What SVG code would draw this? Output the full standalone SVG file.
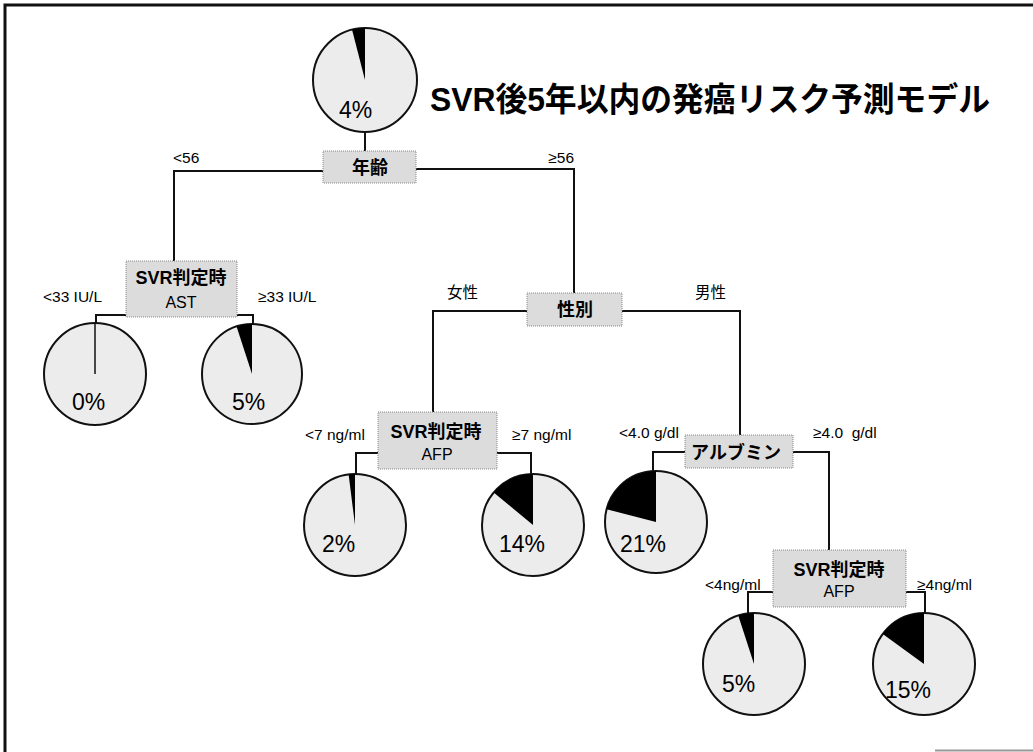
<svg xmlns="http://www.w3.org/2000/svg" width="1033" height="752" viewBox="0 0 1033 752">
<defs>
<style>
.frame{stroke:#111;stroke-width:3;fill:none}
.pie{fill:#ececec;stroke:#111;stroke-width:2}
.wedge{fill:#000}
.box{fill:#dcdcdc;stroke:#888;stroke-width:1;stroke-dasharray:1 1}
.conn{stroke:#111;stroke-width:2;fill:none}
.lbl{font-family:"Liberation Sans","Noto Sans CJK JP",sans-serif;font-size:15.5px;fill:#000}
.pct{font-family:"Liberation Sans",sans-serif;font-size:23px;fill:#000}
.bt{font-family:"Liberation Sans","Noto Sans CJK JP",sans-serif;font-size:18px;font-weight:bold;fill:#000;text-anchor:middle}
.bt2{font-family:"Liberation Sans",sans-serif;font-size:16px;fill:#000;text-anchor:middle}
.title{font-family:"Liberation Sans","Noto Sans CJK JP",sans-serif;font-size:33px;font-weight:bold;fill:#000}
</style>
</defs>
<rect width="1033" height="752" fill="#fff"/>
<path class="frame" d="M5,752 V5 H1033"/>
<line x1="935" y1="750.5" x2="1033" y2="750.5" stroke="#999" stroke-width="2"/>

<text class="title" x="430" y="111" textLength="560" lengthAdjust="spacingAndGlyphs">SVR後5年以内の発癌リスク予測モデル</text>

<g id="connectors">
<line class="conn" x1="365" y1="132" x2="365" y2="151"/>
<path class="conn" d="M323,171 H174 V261"/>
<path class="conn" d="M416,169 H574 V293"/>
<path class="conn" d="M126,315 H96 V323"/>
<path class="conn" d="M237,315 H253 V324"/>
<path class="conn" d="M527,311 H433 V412"/>
<path class="conn" d="M622,311 H740 V435"/>
<path class="conn" d="M378,453 H356 V474"/>
<path class="conn" d="M497,453 H531 V474"/>
<path class="conn" d="M685,452 H653 V471"/>
<path class="conn" d="M793,452 H829 V550"/>
<path class="conn" d="M773,592 H748 V613"/>
<path class="conn" d="M906,592 H925 V613"/>
</g>

<g id="labels">
<text class="lbl" x="173" y="163">&lt;56</text>
<text class="lbl" x="574" y="163" text-anchor="end">≥56</text>
<text class="lbl" x="43" y="302">&lt;33 IU/L</text>
<text class="lbl" x="258" y="302">≥33 IU/L</text>
<text class="lbl" x="447" y="298">女性</text>
<text class="lbl" x="695" y="298">男性</text>
<text class="lbl" x="305" y="440">&lt;7 ng/ml</text>
<text class="lbl" x="512" y="440">≥7 ng/ml</text>
<text class="lbl" x="619" y="438">&lt;4.0 g/dl</text>
<text class="lbl" x="813" y="438" xml:space="preserve">≥4.0  g/dl</text>
<text class="lbl" x="705" y="590">&lt;4ng/ml</text>
<text class="lbl" x="917" y="590">≥4ng/ml</text>
</g>

<g id="pie-root">
<circle class="pie" cx="365" cy="80" r="52"/>
<path class="wedge" d="M365,80 L365,28 A52,52 0 0 0 352.07,29.63 Z"/>
<text class="pct" x="339" y="118">4%</text>
</g>

<g id="node-age">
<rect class="box" x="323" y="151" width="93" height="32"/>
<text class="bt" x="370" y="174" font-size="19">年齢</text>
</g>

<g id="node-ast">
<rect class="box" x="126" y="261" width="111" height="56"/>
<text class="bt" x="181" y="284" font-size="17">SVR判定時</text>
<text class="bt2" x="181" y="308" font-size="15.5">AST</text>
</g>

<g id="pie-0">
<circle class="pie" cx="95" cy="374" r="51"/>
<line x1="95" y1="323" x2="95" y2="374" stroke="#111" stroke-width="1.5"/>
<text class="pct" x="72" y="410">0%</text>
</g>

<g id="pie-5a">
<circle class="pie" cx="252" cy="374" r="50"/>
<path class="wedge" d="M252,374 L252,324 A50,50 0 0 0 236.55,326.45 Z"/>
<text class="pct" x="232" y="410">5%</text>
</g>

<g id="node-sex">
<rect class="box" x="527" y="293" width="95" height="33"/>
<text class="bt" x="575" y="316">性別</text>
</g>

<g id="node-afp1">
<rect class="box" x="378" y="412" width="119" height="57"/>
<text class="bt" x="436" y="438" font-size="18.5">SVR判定時</text>
<text class="bt2" x="437" y="460">AFP</text>
</g>

<g id="pie-2">
<circle class="pie" cx="355" cy="525" r="51"/>
<path class="wedge" d="M355,525 L355,474 A51,51 0 0 0 348.61,474.4 Z"/>
<text class="pct" x="322" y="552">2%</text>
</g>

<g id="pie-14">
<circle class="pie" cx="533" cy="525" r="51"/>
<path class="wedge" d="M533,525 L533,474 A51,51 0 0 0 493.7,492.49 Z"/>
<text class="pct" x="499" y="552">14%</text>
</g>

<g id="node-alb">
<rect class="box" x="685" y="435" width="108" height="33"/>
<text class="bt" x="736" y="459">アルブミン</text>
</g>

<g id="pie-21">
<circle class="pie" cx="656" cy="522" r="51"/>
<path class="wedge" d="M656,522 L656,471 A51,51 0 0 0 606.6,509.32 Z"/>
<text class="pct" x="620" y="552">21%</text>
</g>

<g id="node-afp2">
<rect class="box" x="773" y="550" width="133" height="57"/>
<text class="bt" x="839" y="576" font-size="19">SVR判定時</text>
<text class="bt2" x="839" y="597">AFP</text>
</g>

<g id="pie-5b">
<circle class="pie" cx="754" cy="664" r="51"/>
<path class="wedge" d="M754,664 L754,613 A51,51 0 0 0 738.24,615.5 Z"/>
<text class="pct" x="722" y="692">5%</text>
</g>

<g id="pie-15">
<circle class="pie" cx="924" cy="664" r="51"/>
<path class="wedge" d="M924,664 L924,613 A51,51 0 0 0 882.74,634.02 Z"/>
<text class="pct" x="885" y="698">15%</text>
</g>
</svg>
